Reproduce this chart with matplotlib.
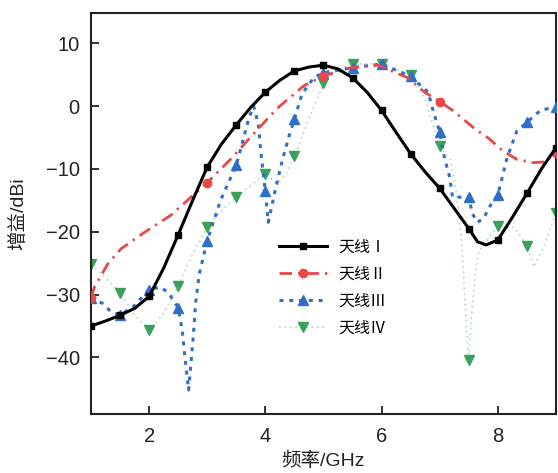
import matplotlib
matplotlib.use("Agg")
import matplotlib.pyplot as plt

plt.rcParams['font.family'] = ['Liberation Sans', 'Noto Sans CJK SC', 'DejaVu Sans']
plt.rcParams['axes.unicode_minus'] = True

# ---- data ----
freq_I = [1.0, 1.25, 1.5, 1.75, 2.0, 2.25, 2.5, 2.75, 3.0, 3.25, 3.5, 3.75, 4.0, 4.25, 4.5,
          4.75, 5.0, 5.25, 5.5, 5.75, 6.0, 6.25, 6.5, 6.75, 7.0, 7.25, 7.5, 7.65, 7.8, 8.0,
          8.25, 8.5, 8.75, 9.0]
gain_I = [-35.0, -34.2, -33.3, -32.2, -30.3, -25.8, -20.5, -15.0, -9.7, -6.0, -3.0, -0.2, 2.2, 4.1, 5.6,
          6.2, 6.5, 5.9, 4.5, 2.2, -0.7, -4.2, -7.6, -10.5, -13.1, -16.3, -19.5, -21.6, -22.1, -21.3,
          -17.7, -13.9, -10.0, -6.6]

freq_II = [1.0, 1.06, 1.29, 1.52, 1.92, 2.37, 2.66, 3.0, 3.43, 3.8, 4.2, 4.66, 5.0, 5.47, 5.94,
           6.45, 6.74, 7.0, 7.24, 7.6, 7.85, 8.08, 8.33, 8.6, 8.8, 9.0]
gain_II = [-30.5, -28.8, -25.1, -22.7, -20.1, -17.4, -15.0, -12.2, -8.2, -4.4, -0.4, 3.2, 4.8, 6.1, 6.5,
           4.5, 2.2, 0.7, -0.8, -3.6, -5.2, -7.1, -8.5, -9.0, -8.9, -7.5]

freq_III = [1.0, 1.2, 1.35, 1.5, 1.72, 2.0, 2.2, 2.34, 2.5, 2.57, 2.61, 2.68, 2.71, 2.76, 2.8,
            2.86, 3.0, 3.23, 3.5, 3.6, 3.72, 3.8, 3.88, 3.93, 4.0, 4.05, 4.17, 4.29, 4.4, 4.5,
            4.63, 4.83, 5.0, 5.5, 6.0, 6.5, 6.8, 6.9, 7.0, 7.08, 7.17, 7.22, 7.36, 7.5, 7.56,
            7.65, 7.76, 7.85, 8.0, 8.16, 8.33, 8.5, 8.73, 9.0]
gain_III = [-30.5, -31.4, -32.8, -33.2, -32.0, -29.2, -28.8, -29.8, -32.1, -35.7, -39.4, -45.2, -42.0, -36.7, -31.4,
            -26.9, -21.4, -15.0, -9.4, -6.0, -1.8, 0.0, -3.0, -8.0, -13.5, -18.5, -13.4, -8.7, -5.0, -2.1,
            1.9, 4.5, 5.3, 6.1, 6.7, 4.7, 2.2, -1.2, -4.1, -8.2, -11.3, -14.5, -14.5, -14.4, -17.1,
            -18.5, -17.8, -16.1, -14.1, -8.2, -3.9, -2.6, -0.7, -0.1]

freq_IV = [1.0, 1.25, 1.5, 1.75, 2.0, 2.25, 2.5, 2.75, 3.0, 3.25, 3.5, 3.75, 4.0, 4.2, 4.35,
           4.5, 4.75, 5.0, 5.25, 5.5, 6.0, 6.5, 6.75, 7.0, 7.19, 7.28, 7.38, 7.46, 7.5, 7.55,
           7.62, 7.68, 7.85, 8.0, 8.28, 8.5, 8.62, 8.79, 9.0]
gain_IV = [-25.2, -27.3, -29.7, -33.3, -35.6, -33.0, -28.7, -23.5, -19.3, -16.6, -14.5, -12.6, -10.8, -12.3, -11.0,
           -8.0, -2.0, 3.6, 5.8, 6.7, 6.7, 5.0, 1.0, -6.4, -8.7, -13.4, -22.0, -35.0, -40.4, -33.0,
           -26.0, -23.0, -20.9, -19.1, -19.3, -22.2, -25.6, -22.4, -17.0]

labels = ['天线Ⅰ', '天线Ⅱ', '天线Ⅲ', '天线Ⅳ']
x_ticks = [2, 4, 6, 8]
y_ticks = [-40, -30, -20, -10, 0, 10]


def mark_idx(xs, step):
    return [i for i, v in enumerate(xs) if abs((v - 1.0) / step - round((v - 1.0) / step)) < 1e-6]


fig = plt.figure(figsize=(5.58, 4.73), dpi=100)
ax = fig.add_axes([0.163, 0.1247, 0.8334, 0.8478])

ax.plot(freq_IV, gain_IV, color='#b9dfc6', lw=1.3, linestyle=(0, (1, 2)),
        marker='v', ms=6.5, mfc='#3aa05a', mec='#3aa05a',
        markevery=mark_idx(freq_IV, 0.5), label=labels[3], zorder=2)
ax.plot(freq_III, gain_III, color='#2f6fc6', lw=2.2, linestyle=(0, (1.3, 1.9)),
        dash_capstyle='butt', marker='^', ms=6.5, mfc='#2f6fc6', mec='#2f6fc6',
        markevery=mark_idx(freq_III, 0.5), label=labels[2], zorder=3)
ax.plot(freq_II, gain_II, color='#e84848', lw=2.0, linestyle=(0, (4.5, 2.2, 0.8, 2.2)),
        marker='o', ms=6, mfc='#e84848', mec='#e84848',
        markevery=mark_idx(freq_II, 2.0), label=labels[1], zorder=4)
ax.plot(freq_I, gain_I, color='black', lw=2.2, marker='s', ms=5,
        markevery=mark_idx(freq_I, 0.5), label=labels[0], zorder=5)

ax.set_xlim(1, 9)
ax.set_ylim(-49, 14.8)
ax.set_xticks(x_ticks)
ax.set_yticks(y_ticks)
ax.tick_params(direction='in', length=6, width=1.3, labelsize=14.5, colors='#222222')
ax.tick_params(axis='x', pad=9)
ax.tick_params(axis='y', pad=8)
for s in ax.spines.values():
    s.set_linewidth(1.5)
    s.set_color('#222222')

ax.set_xlabel('频率/GHz', fontsize=14, color='#222222')
ax.set_ylabel('增益/dBi', fontsize=14, color='#222222')
ax.xaxis.set_label_coords(0.5, -0.093)
ax.yaxis.set_label_coords(-0.137, 0.5)

handles, labs = ax.get_legend_handles_labels()
order = [3, 2, 1, 0]
leg = ax.legend([handles[i] for i in order], [labs[i] for i in order],
                loc='upper left', bbox_to_anchor=(0.39, 0.45), frameon=False,
                fontsize=11.5, handlelength=3.0, handletextpad=0.75, labelspacing=0.75,
                borderaxespad=0)

fig.savefig('out.png', dpi=100)
